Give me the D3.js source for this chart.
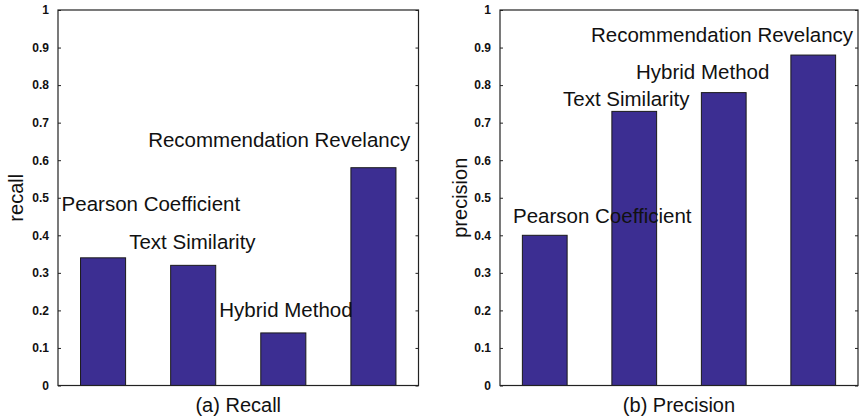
<!DOCTYPE html>
<html>
<head>
<meta charset="utf-8">
<script src="https://cdn.jsdelivr.net/npm/d3@7"></script>
<style>
  body { margin: 0; background: #fff; }
  svg text { font-family: "Liberation Sans", Arial, sans-serif; fill: #111; }
</style>
</head>
<body>
<div id="container"></div>
<script>
// data
const methods = ["Pearson Coefficient", "Text Similarity", "Hybrid Method", "Recommendation Revelancy"];
const recallValues = [0.34, 0.32, 0.14, 0.58];
const precisionValues = [0.40, 0.73, 0.78, 0.88];
const yTicks = [0, 0.1, 0.2, 0.3, 0.4, 0.5, 0.6, 0.7, 0.8, 0.9, 1];

// text annotations placed in data units (x = bar slot 0.5..4.5, y = baseline value)
const recallLabelX = [0.54, 1.29, 2.29, 1.50];
const recallLabelY = [0.466, 0.363, 0.183, 0.636];
const precisionLabelX = [0.645, 1.204, 2.02, 1.517];
const precisionLabelY = [0.434, 0.744, 0.816, 0.914];

const widthSVG = 862, heightSVG = 417;
const barColor = "#3c2e92";

const svg = d3.select("#container")
  .append("svg")
  .attr("width", widthSVG)
  .attr("height", heightSVG);

const panels = [
  {left: 58, right: 418.5, yLabel: "recall", yLabelX: 16, title: "(a) Recall",
   values: recallValues, lx: recallLabelX, ly: recallLabelY},
  {left: 500, right: 858, yLabel: "precision", yLabelX: 460, title: "(b) Precision",
   values: precisionValues, lx: precisionLabelX, ly: precisionLabelY}
];

const plotTop = 10, plotBottom = 385.5;

panels.forEach(p => {
  const g = svg.append("g");

  const x = d3.scaleBand()
    .domain(d3.range(methods.length))
    .range([p.left, p.right])
    .paddingInner(0.5)
    .paddingOuter(0.25);

  // continuous x for annotations: slot i+1 is centre of bar i
  const xc = d3.scaleLinear().domain([0.5, methods.length + 0.5]).range([p.left, p.right]);

  const y = d3.scaleLinear().domain([0, 1]).range([plotBottom, plotTop]);

  // bars
  g.selectAll("rect.bar")
    .data(p.values)
    .enter()
    .append("rect")
    .attr("class", "bar")
    .attr("x", (d, i) => x(i))
    .attr("width", x.bandwidth())
    .attr("y", d => y(d))
    .attr("height", d => y(0) - y(d))
    .attr("fill", barColor)
    .attr("stroke", "#1a1a1a")
    .attr("stroke-width", 1);

  // left axis with inward ticks
  const yAxis = g.append("g")
    .attr("transform", `translate(${p.left},0)`)
    .call(d3.axisLeft(y).tickValues(yTicks).tickSize(-3).tickPadding(9)
      .tickFormat(d => d === 0 ? "0" : d === 1 ? "1" : d3.format(".1f")(d)));
  yAxis.select(".domain").remove();
  yAxis.selectAll("line").attr("stroke", "#222");
  yAxis.selectAll("text")
    .style("font-size", "12px")
    .style("font-weight", "bold")
    .attr("fill", "#333");

  // right side inward ticks, no labels
  const yAxisR = g.append("g")
    .attr("transform", `translate(${p.right},0)`)
    .call(d3.axisRight(y).tickValues(yTicks).tickSize(-3).tickFormat(""));
  yAxisR.select(".domain").remove();
  yAxisR.selectAll("line").attr("stroke", "#222");

  // frame
  g.append("rect")
    .attr("x", p.left)
    .attr("y", plotTop)
    .attr("width", p.right - p.left)
    .attr("height", plotBottom - plotTop)
    .attr("fill", "none")
    .attr("stroke", "#222")
    .attr("stroke-width", 1.2);

  // annotations
  g.selectAll("text.note")
    .data(methods)
    .enter()
    .append("text")
    .attr("class", "note")
    .attr("x", (d, i) => xc(p.lx[i]))
    .attr("y", (d, i) => y(p.ly[i]))
    .style("font-size", "20.5px")
    .text(d => d);

  // y label
  g.append("text")
    .attr("transform", `translate(${p.yLabelX},${(plotTop + plotBottom) / 2}) rotate(-90)`)
    .attr("text-anchor", "middle")
    .attr("dy", "0.35em")
    .style("font-size", "20px")
    .text(p.yLabel);

  // panel title
  g.append("text")
    .attr("x", (p.left + p.right) / 2)
    .attr("y", 412)
    .attr("text-anchor", "middle")
    .style("font-size", "20px")
    .text(p.title);
});
</script>
</body>
</html>
